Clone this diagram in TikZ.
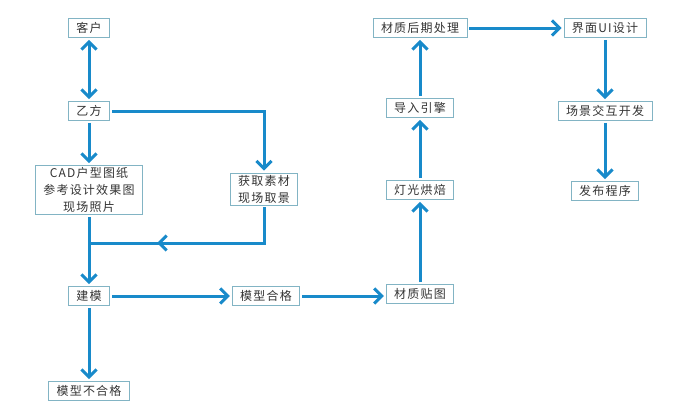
\documentclass[tikz,border=0pt]{standalone}
\usepackage{fontspec}
\newfontfamily\cjk[LetterSpace=10]{Noto Sans CJK SC}
\usetikzlibrary{arrows.meta,decorations.markings}
\definecolor{flowblue}{RGB}{24,138,202}
\definecolor{boxline}{RGB}{130,180,196}
\tikzset{
  box/.style={draw=boxline, line width=0.8pt, font=\cjk\fontsize{12}{17}\selectfont,
    text=black!80, inner xsep=8pt, inner ysep=1pt, minimum height=19pt, align=center},
  tip/.style={Straight Barb[length=7.5pt,width=15pt]},
  flow/.style={draw=flowblue, line width=3pt, -{Straight Barb[length=7.5pt,width=15pt]},
    shorten <=2pt, shorten >=2pt},
}
\begin{document}
\begin{tikzpicture}[x=1pt,y=-1pt]
  \useasboundingbox (0,0) rectangle (698,410);
  % 左侧
  \node[box] (kehu) at (89,28) {客户};
  \node[box] (yifang) at (89,111) {乙方};
  \node[box, inner ysep=2pt] (cad) at (89,190) {CAD户型图纸\\参考设计效果图\\现场照片};
  \node[box, inner ysep=2pt] (sucai) at (264,189) {获取素材\\现场取景};
  \node[box] (jianmo) at (89,296) {建模};
  \node[box] (hege) at (266,296) {模型合格};
  \node[box] (buhege) at (89,391) {模型不合格};
  % 中间
  \node[box] (tietu) at (420,294) {材质贴图};
  \node[box] (hongbei) at (420,190) {灯光烘焙};
  \node[box] (yinqing) at (420,108) {导入引擎};
  \node[box] (houqi) at (420,28) {材质后期处理};
  % 右侧
  \node[box] (ui) at (605,28) {界面UI设计};
  \node[box] (jiaohu) at (605,111) {场景交互开发};
  \node[box] (fabu) at (605,191) {发布程序};
  \coordinate (merge) at (cad.south |- 0,243);

  \draw[flow, {Straight Barb[length=7.5pt,width=15pt]}-{Straight Barb[length=7.5pt,width=15pt]}] (kehu) -- (yifang);
  \draw[flow] (yifang) -- (cad);
  \draw[flow] (yifang.east) -| (sucai.north);
  \draw[draw=flowblue, line width=3pt, shorten <=2pt, postaction={decorate},
    decoration={markings, mark=at position 0.68 with {\arrow[flowblue]{Straight Barb[length=7.5pt,width=15pt]}}}]
    (sucai.south) |- (merge);
  \draw[flow] (cad) -- (jianmo);
  \draw[flow] (jianmo) -- (hege);
  \draw[flow] (jianmo) -- (buhege);
  \draw[flow] (hege.east) -- (tietu.west |- hege.east);
  \draw[flow] (tietu) -- (hongbei);
  \draw[flow] (hongbei) -- (yinqing);
  \draw[flow] (yinqing) -- (houqi);
  \draw[flow] (houqi) -- (ui);
  \draw[flow] (ui) -- (jiaohu);
  \draw[flow] (jiaohu) -- (fabu);
\end{tikzpicture}
\end{document}
